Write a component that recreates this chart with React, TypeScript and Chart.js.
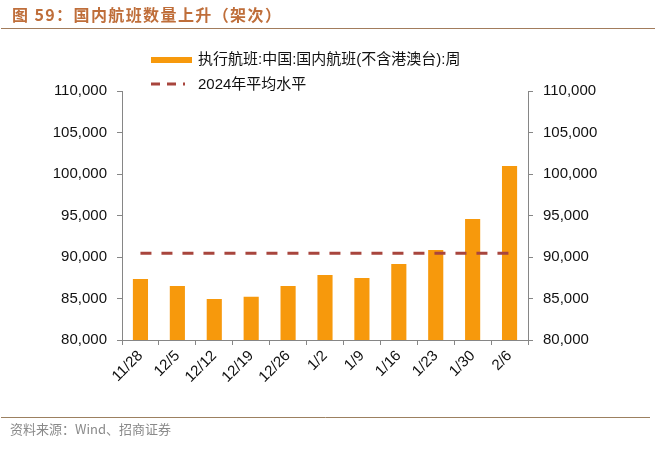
import React, { useEffect, useRef } from "react";
import { Chart, registerables } from "chart.js";

Chart.register(...registerables);

const categories = ["11/28", "12/5", "12/12", "12/19", "12/26", "1/2", "1/9", "1/16", "1/23", "1/30", "2/6"];
const flights = [87350, 86500, 84950, 85200, 86500, 87830, 87470, 89150, 90850, 94580, 100960];
const avg2024 = 90450;
const avgLine = categories.map(() => avg2024);
const barLabel = "执行航班:中国:国内航班(不含港澳台):周";
const lineLabel = "2024年平均水平";
const titleText = "图 59：国内航班数量上升（架次）";
const sourceText = "资料来源：Wind、招商证券";
const yMin = 80000;
const yMax = 110000;
const yStep = 5000;

const BAR_COLOR = "#F7990C";
const LINE_COLOR = "#A8453D";
const AXIS_COLOR = "#868686";
const FONT = "'Liberation Sans', Arial, 'Noto Sans CJK SC', sans-serif";

const fmt = (v: number) => Number(v).toLocaleString("en-US");

const decorPlugin = {
  id: "decor",
  afterDraw(chart: any) {
    const ctx = chart.ctx as any;
    ctx.save();
    // title
    ctx.fillStyle = "#BF6E3A";
    ctx.font = "bold 16px 'Noto Sans CJK SC', sans-serif";
    ctx.textBaseline = "middle";
    ctx.textAlign = "left";
    ctx.letterSpacing = "1.4px";
    ctx.fillText(titleText, 12, 15);
    ctx.letterSpacing = "0px";
    // title rule
    ctx.strokeStyle = "#A27C5C";
    ctx.lineWidth = 1;
    ctx.beginPath();
    ctx.moveTo(1, 28.5);
    ctx.lineTo(655, 28.5);
    ctx.stroke();
    // legend
    ctx.fillStyle = BAR_COLOR;
    ctx.fillRect(151, 57, 41, 6);
    ctx.strokeStyle = LINE_COLOR;
    ctx.lineWidth = 3;
    ctx.setLineDash([9, 7]);
    ctx.beginPath();
    ctx.moveTo(151, 84);
    ctx.lineTo(185, 84);
    ctx.stroke();
    ctx.setLineDash([]);
    ctx.fillStyle = "#111";
    ctx.font = "15px " + FONT;
    ctx.fillText(barLabel, 198, 60);
    ctx.fillText(lineLabel, 198, 85);
    // source rule
    ctx.strokeStyle = "#9C8060";
    ctx.lineWidth = 1;
    ctx.beginPath();
    ctx.moveTo(1, 417.5);
    ctx.lineTo(650, 417.5);
    ctx.stroke();
    ctx.fillStyle = "#8A8A8A";
    ctx.font = "13px 'Noto Sans CJK SC', sans-serif";
    ctx.fillText(sourceText, 10, 429);
    ctx.restore();
  },
};

export default function App() {
  const ref = useRef<HTMLCanvasElement | null>(null);
  useEffect(() => {
    if (!ref.current) return;
    const yTicks = {
      stepSize: yStep,
      color: "#111",
      font: { size: 15, family: FONT },
      padding: 10,
      callback: (v: any) => fmt(v),
    };
    const chart = new Chart(ref.current, {
      type: "bar",
      data: {
        labels: categories,
        datasets: [
          {
            type: "line" as const,
            label: lineLabel,
            data: avgLine,
            borderColor: LINE_COLOR,
            borderWidth: 3,
            borderDash: [11, 10],
            pointRadius: 0,
            fill: false,
            order: 0,
            yAxisID: "y",
          },
          {
            type: "bar" as const,
            label: barLabel,
            data: flights,
            backgroundColor: BAR_COLOR,
            barPercentage: 1,
            categoryPercentage: 0.41,
            order: 1,
            yAxisID: "y",
          },
        ],
      },
      options: {
        responsive: false,
        animation: false,
        devicePixelRatio: 1,
        layout: { padding: { top: 91, left: 0, right: 0, bottom: 0 } },
        plugins: {
          legend: { display: false },
          title: { display: false },
          tooltip: { enabled: false },
        },
        scales: {
          x: {
            grid: {
              display: true,
              drawOnChartArea: false,
              drawTicks: true,
              tickLength: 5,
              color: AXIS_COLOR,
              offset: true,
            },
            border: { display: true, color: AXIS_COLOR, width: 1 },
            ticks: {
              color: "#111",
              font: { size: 15, family: FONT },
              minRotation: 45,
              maxRotation: 45,
              padding: 2,
              autoSkip: false,
            },
            afterFit: (s: any) => {
              s.height = 110;
            },
          },
          y: {
            position: "left",
            min: yMin,
            max: yMax,
            grid: {
              drawOnChartArea: false,
              drawTicks: true,
              tickLength: 5,
              color: AXIS_COLOR,
            },
            border: { display: true, color: AXIS_COLOR, width: 1 },
            ticks: yTicks,
            afterFit: (s: any) => {
              s.width = 122;
            },
          },
          y1: {
            position: "right",
            min: yMin,
            max: yMax,
            grid: {
              drawOnChartArea: false,
              drawTicks: true,
              tickLength: 5,
              color: AXIS_COLOR,
            },
            border: { display: true, color: AXIS_COLOR, width: 1 },
            ticks: yTicks,
            afterFit: (s: any) => {
              s.width = 127;
            },
          },
        },
      } as any,
      plugins: [decorPlugin],
    });
    return () => chart.destroy();
  }, []);
  return (
    <div style={{ position: "absolute", left: 0, top: 0, width: 655, height: 450, background: "#fff" }}>
      <canvas ref={ref} width={655} height={450} style={{ width: 655, height: 450, display: "block" }} />
    </div>
  );
}
